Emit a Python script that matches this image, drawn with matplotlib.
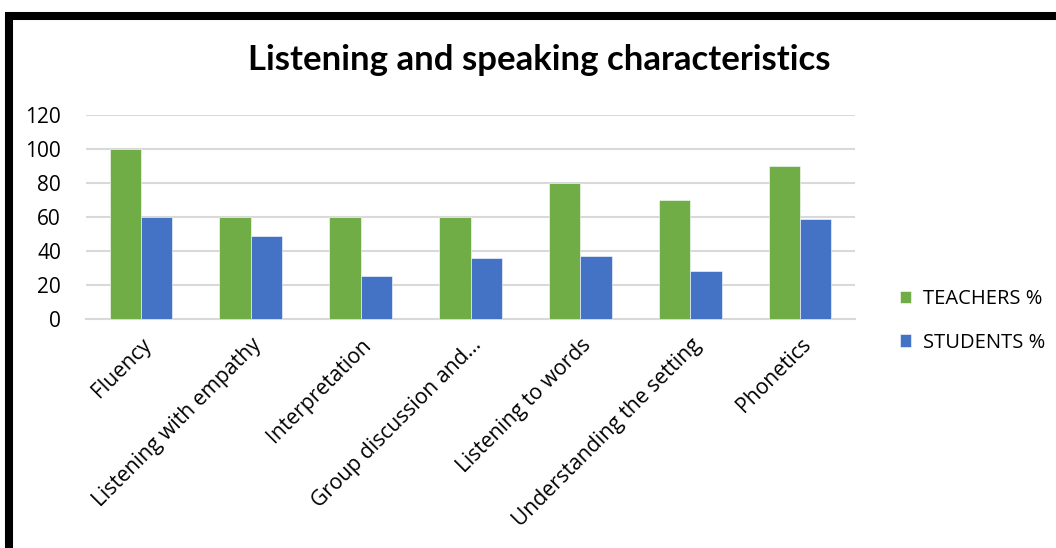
import matplotlib
matplotlib.use("Agg")
import matplotlib.pyplot as plt
import numpy as np
from matplotlib.patches import Rectangle

categories = ["Fluency", "Listening with empathy", "Interpretation",
              "Group discussion and...", "Listening to words",
              "Understanding the setting", "Phonetics"]
teachers = [100, 60, 60, 60, 80, 70, 90]
students = [60, 49, 25, 36, 37, 28, 59]
yticks = [0, 20, 40, 60, 80, 100, 120]

GREEN = "#70AD47"
BLUE = "#4472C4"

plt.rcParams["font.family"] = ["Open Sans", "DejaVu Sans"]

fig = plt.figure(figsize=(10.56, 5.48), dpi=100)
ax = fig.add_axes([0.0814, 0.4179, 0.7283, 0.3722])

x = np.arange(len(categories))
w = 0.285
ax.bar(x - w / 2, teachers, w, color=GREEN, label="TEACHERS %",
       edgecolor="white", linewidth=0.4, zorder=3)
ax.bar(x + w / 2, students, w, color=BLUE, label="STUDENTS %",
       edgecolor="white", linewidth=0.4, zorder=3)

ax.set_xlim(-0.5, len(categories) - 0.5)
ax.set_ylim(0, 120)
ax.set_yticks(yticks)
ax.set_yticklabels([str(v) for v in yticks], fontsize=15)
ax.yaxis.grid(True, color="#D9D9D9", linewidth=1.5, zorder=0)
ax.set_axisbelow(True)
for s in ["top", "right", "left"]:
    ax.spines[s].set_visible(False)
ax.spines["bottom"].set_color("#D9D9D9")
ax.spines["bottom"].set_linewidth(1.5)
ax.tick_params(axis="both", length=0)
ax.tick_params(axis="y", pad=18)

ax.set_xticks(x)
ax.set_xticklabels(categories, rotation=45, ha="right",
                   rotation_mode="anchor", fontsize=15.2)
ax.tick_params(axis="x", pad=11)

fig.text(0.511, 0.89, "Listening and speaking characteristics",
         ha="center", va="center", fontsize=25, fontweight="bold",
         family=["Lato", "DejaVu Sans"])

ax.legend(loc="center left", bbox_to_anchor=(1.035, -0.01), frameon=False,
          fontsize=14.5, handlelength=0.55, handleheight=0.55,
          labelspacing=1.15, handletextpad=0.6)

# black frame around the chart
fig.patches.append(Rectangle((8.5 / 1056, -0.2), 1.2, 1.2 - 16 / 548,
                             transform=fig.transFigure, fill=False,
                             edgecolor="black", linewidth=5.8))

fig.savefig("out.png", dpi=100)
